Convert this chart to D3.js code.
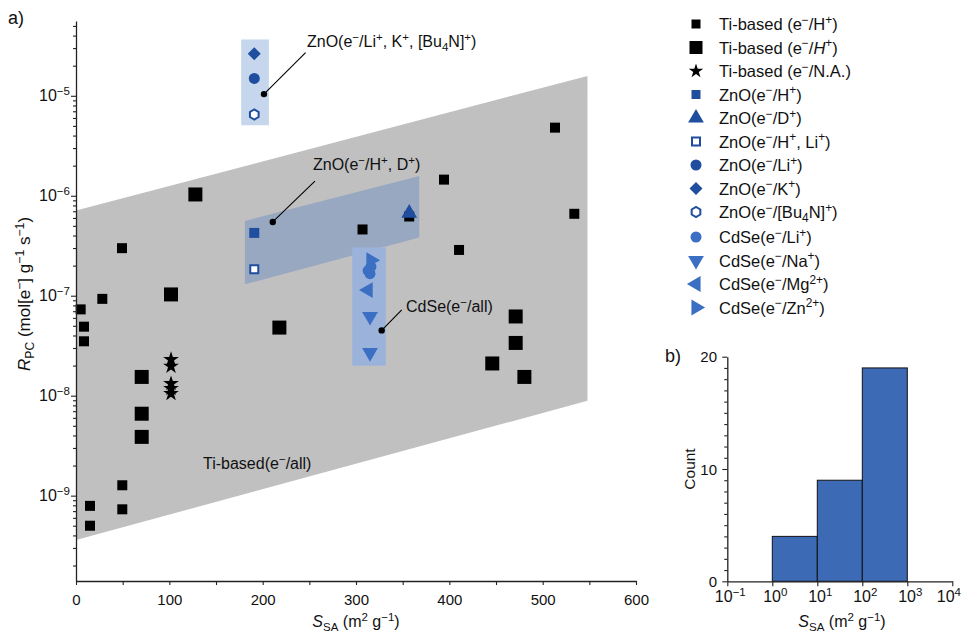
<!DOCTYPE html>
<html>
<head>
<meta charset="utf-8">
<script src="https://cdn.jsdelivr.net/npm/d3@7"></script>
<style>
  html, body { margin: 0; padding: 0; background: #fff; }
  svg { display: block; font-family: "Liberation Sans", Arial, sans-serif; }
</style>
</head>
<body>
<svg id="chart" width="962" height="636"></svg>
<script>
// ---- data -------------------------------------------------------------
// Ti-based photocatalysts, e−/H+ (small squares)
const tiSmall = [
  [49.3, 2.99e-7], [28.2, 9.3e-8], [5, 7.3e-8], [8.6, 4.9e-8], [8.6, 3.5e-8],
  [49.6, 1.27e-9], [49.6, 7.3e-10], [15, 7.9e-10], [15, 5.0e-10],
  [513.2, 4.8e-6], [394.3, 1.45e-6], [533.9, 6.6e-7], [410.4, 2.87e-7],
  [307, 4.6e-7], [357, 6.2e-7]
];
// Ti-based, e−/H+ (large squares)
const tiLarge = [
  [101.8, 1.03e-7], [70.4, 1.54e-8], [70.4, 6.6e-9], [70.4, 3.87e-9],
  [127.9, 1.03e-6], [217.9, 4.8e-8], [471.1, 6.2e-8], [471.1, 3.37e-8],
  [446, 2.1e-8], [480.4, 1.54e-8]
];
// Ti-based, e−/N.A. (stars)
const tiStar = [[101.8, 2.3e-8], [101.8, 1.97e-8], [101.8, 1.32e-8], [101.8, 1.18e-8], [101.8, 1.05e-8]];
// ZnO series
const znoH   = [[191, 4.25e-7]];
const znoD   = [[357, 6.7e-7]];
const znoHLi = [[191, 1.84e-7]];
const znoLi  = [[191, 1.49e-5]];
const znoK   = [[191, 2.64e-5]];
const znoBu  = [[191, 6.5e-6]];
// CdSe series
const cdseLi = [[316, 1.95e-7], [313, 1.78e-7], [315, 1.66e-7]];
const cdseNa = [[315, 6.2e-8], [315, 2.7e-8]];
const cdseMg = [[313, 1.14e-7]];
const cdseZn = [[316, 2.27e-7]];

// Shaded regions (S_SA, R_PC)
const tiBand   = [[0, 7.1e-7], [548, 1.58e-5], [548, 8.9e-9], [0, 3.6e-10]];
const znoUpper = [[177, 3.65e-5], [206.7, 3.65e-5], [206.7, 5.07e-6], [177, 5.07e-6]];
const znoHD    = [[181, 5.6e-7], [367.8, 1.58e-6], [367.8, 3.82e-7], [181, 1.3e-7]];
const cdseBox  = [[296, 3.03e-7], [332, 3.03e-7], [332, 1.99e-8], [296, 1.99e-8]];

// Histogram of S_SA
const binEdges = [1, 10, 100, 1000];
const binCounts = [4, 9, 19];

const xTicksMain = [0, 100, 200, 300, 400, 500, 600];
const yTicksMain = [1e-9, 1e-8, 1e-7, 1e-6, 1e-5];
const histXTicks = [1e-1, 1e0, 1e1, 1e2, 1e3, 1e4];
const histYTicks = [0, 10, 20];

// ---- colours ------------------------------------------------------------
const C = {
  axis: "#222",
  band: "#c0c0c0",
  upper: "#c5d6ed",
  hd: "#98a8c1",
  cdBox: "#9bb3db",
  zno: "#1f4e9f",
  cdse: "#3b6fc3",
  bar: "#3d6ab4"
};

const svg = d3.select("#chart");

// rich text: ^{..} superscript, _{..} subscript, *..* italic
function rich(sel, str, fs) {
  const re = /(\^\{[^}]*\}|_\{[^}]*\}|\*[^*]*\*)/g;
  const parts = str.split(re).filter(s => s && s.length);
  let shift = 0;
  parts.forEach(p => {
    let txt = p, target = 0, size = fs, italic = false;
    if (p.startsWith("^{")) { txt = p.slice(2, -1); target = -0.38 * fs; size = 0.72 * fs; }
    else if (p.startsWith("_{")) { txt = p.slice(2, -1); target = 0.22 * fs; size = 0.72 * fs; }
    else if (p.startsWith("*")) { txt = p.slice(1, -1); italic = true; }
    const t = sel.append("tspan").attr("dy", target - shift).attr("font-size", size).text(txt);
    if (italic) t.attr("font-style", "italic");
    shift = target;
  });
  return sel;
}

function label(x, y, str, fs, anchor = "start", rotate = null) {
  const t = svg.append("text")
    .attr("x", x).attr("y", y)
    .attr("font-size", fs)
    .attr("text-anchor", anchor)
    .attr("fill", "#111");
  if (rotate !== null) t.attr("transform", `rotate(${rotate},${x},${y})`);
  return rich(t, str, fs);
}
const pow10 = v => "10^{" + String(Math.round(Math.log10(v))).replace("-", "−") + "}";

// symbol paths
const hexPath = r => {
  const pts = d3.range(6).map(i => {
    const a = Math.PI / 6 + i * Math.PI / 3;
    return [r * Math.cos(a), r * Math.sin(a)];
  });
  return "M" + pts.map(p => p.join(",")).join("L") + "Z";
};
const symbols = {
  square: s => d3.symbol(d3.symbolSquare, s * s)(),
  triUp: s => d3.symbol(d3.symbolTriangle, s * s * 0.55)(),
  circle: s => d3.symbol(d3.symbolCircle, Math.PI * s * s / 4)(),
  diamond: s => d3.symbol(d3.symbolSquare, s * s / 2)(),
  star: s => d3.symbol(d3.symbolStar, s * s * 0.45)(),
  hex: s => hexPath(s / 2)
};

function marker(g, x, y, spec) {
  const p = g.append("path")
    .attr("d", symbols[spec.shape](spec.size))
    .attr("transform", `translate(${x},${y}) rotate(${spec.rot || 0})`);
  if (spec.open) {
    p.attr("fill", "#fff").attr("stroke", spec.color).attr("stroke-width", 2);
  } else {
    p.attr("fill", spec.color);
  }
  return p;
}

// ---- main panel a) --------------------------------------------------------
const x = d3.scaleLinear().domain([0, 600]).range([76, 636]);
const y = d3.scaleLog().domain([1.4e-10, 5.6e-5]).range([581, 21]);
const main = svg.append("g");

const poly = pts => "M" + pts.map(d => [x(d[0]), y(d[1])].join(",")).join("L") + "Z";
main.append("path").attr("d", poly(tiBand)).attr("fill", C.band);
main.append("path").attr("d", poly(znoUpper)).attr("fill", C.upper);
main.append("path").attr("d", poly(znoHD)).attr("fill", C.hd);
main.append("path").attr("d", poly(cdseBox)).attr("fill", C.cdBox);

const specs = {
  tiSmall: { shape: "square", size: 10, color: "#000" },
  tiLarge: { shape: "square", size: 14, color: "#000" },
  tiStar: { shape: "star", size: 13, color: "#000" },
  znoH: { shape: "square", size: 10, color: C.zno },
  znoD: { shape: "triUp", size: 14, color: C.zno },
  znoHLi: { shape: "square", size: 8, color: C.zno, open: true },
  znoLi: { shape: "circle", size: 11, color: C.zno },
  znoK: { shape: "diamond", size: 13, color: C.zno, rot: 45 },
  znoBu: { shape: "hex", size: 10, color: C.zno, open: true },
  cdseLi: { shape: "circle", size: 11, color: C.cdse },
  cdseNa: { shape: "triUp", size: 14, color: C.cdse, rot: 180 },
  cdseMg: { shape: "triUp", size: 14, color: C.cdse, rot: -90 },
  cdseZn: { shape: "triUp", size: 14, color: C.cdse, rot: 90 }
};
const seriesData = { tiSmall, tiLarge, tiStar, znoH, znoD, znoHLi, znoLi, znoK, znoBu, cdseLi, cdseNa, cdseMg, cdseZn };
const drawOrder = ["tiSmall", "tiLarge", "tiStar", "znoH", "znoD", "znoHLi", "znoLi", "znoK", "znoBu", "cdseLi", "cdseMg", "cdseNa", "cdseZn"];
const pts = main.append("g");
drawOrder.forEach(k => seriesData[k].forEach(d => marker(pts, x(d[0]), y(d[1]), specs[k])));

// annotation callouts: dot, leader line, text
const callouts = [
  { dot: [201.4, 1.04e-5], end: [246, 2.7e-5], text: "ZnO(e^{−}/Li^{+}, K^{+}, [Bu_{4}N]^{+})", tx: 307, ty: 47 },
  { dot: [210.8, 5.47e-7], end: [256, 1.4e-6], text: "ZnO(e^{−}/H^{+}, D^{+})", tx: 313, ty: 170 },
  { dot: [327.5, 4.5e-8], end: [349, 7.2e-8], text: "CdSe(e^{−}/all)", tx: 406, ty: 312 }
];
callouts.forEach(c => {
  main.append("line")
    .attr("x1", x(c.dot[0])).attr("y1", y(c.dot[1]))
    .attr("x2", x(c.end[0])).attr("y2", y(c.end[1]))
    .attr("stroke", "#000").attr("stroke-width", 1.1);
  main.append("circle").attr("cx", x(c.dot[0])).attr("cy", y(c.dot[1])).attr("r", 3.2).attr("fill", "#000");
  label(c.tx, c.ty, c.text, 16);
});
label(203, 469, "Ti-based(e^{−}/all)", 16);

// axes
const styleAxis = g => {
  g.select(".domain").attr("stroke", C.axis).attr("stroke-width", 1.3);
  g.selectAll(".tick line").attr("stroke", C.axis).attr("stroke-width", 1.1);
};
const xAxis = main.append("g").attr("transform", "translate(0,581)")
  .call(d3.axisBottom(x).tickValues(xTicksMain).tickSize(4).tickSizeOuter(0).tickFormat(d3.format("d")));
styleAxis(xAxis);
xAxis.selectAll("text").attr("font-size", 15).attr("font-family", "Liberation Sans, Arial, sans-serif")
  .attr("fill", "#111").attr("dy", null).attr("y", 24);
const xMinor = main.append("g").attr("transform", "translate(0,581)")
  .call(d3.axisBottom(x).tickValues(d3.range(50, 600, 100)).tickSize(4).tickFormat(""));
xMinor.select(".domain").remove();
styleAxis(xMinor);

const yAxis = main.append("g").attr("transform", "translate(76,0)")
  .call(d3.axisLeft(y).tickValues(yTicksMain).tickSize(5).tickSizeOuter(0).tickFormat(""));
styleAxis(yAxis);
yTicksMain.forEach(v => label(70, y(v) + 5.5, pow10(v), 16, "end"));
const yMinorVals = [];
for (let e = -10; e <= -5; e++) for (let m = 2; m <= 9; m++) {
  const v = m * Math.pow(10, e);
  if (v >= 1.4e-10 && v <= 5.6e-5) yMinorVals.push(v);
}
const yMinor = main.append("g").attr("transform", "translate(76,0)")
  .call(d3.axisLeft(y).tickValues(yMinorVals).tickSize(3).tickFormat(""));
yMinor.select(".domain").remove();
styleAxis(yMinor);

label(356, 627, "*S*_{SA} (m^{2} g^{−1})", 16, "middle");
label(30, 294, "*R*_{PC} (mol[e^{−}] g^{−1} s^{−1})", 17, "middle", -90);
label(8, 24, "a)", 18);

// ---- legend ------------------------------------------------------------
const legendItems = [
  ["tiSmall", "Ti-based (e^{−}/H^{+})", { size: 9 }],
  ["tiLarge", "Ti-based (e^{−}/*H*^{+})", { size: 13 }],
  ["tiStar", "Ti-based (e^{−}/N.A.)", { size: 12 }],
  ["znoH", "ZnO(e^{−}/H^{+})", { size: 9 }],
  ["znoD", "ZnO(e^{−}/D^{+})", {}],
  ["znoHLi", "ZnO(e^{−}/H^{+}, Li^{+})", {}],
  ["znoLi", "ZnO(e^{−}/Li^{+})", {}],
  ["znoK", "ZnO(e^{−}/K^{+})", {}],
  ["znoBu", "ZnO(e^{−}/[Bu_{4}N]^{+})", {}],
  ["cdseLi", "CdSe(e^{−}/Li^{+})", {}],
  ["cdseNa", "CdSe(e^{−}/Na^{+})", {}],
  ["cdseMg", "CdSe(e^{−}/Mg^{2+})", {}],
  ["cdseZn", "CdSe(e^{−}/Zn^{2+})", {}]
];
const leg = svg.append("g");
legendItems.forEach((it, i) => {
  const yy = 24 + i * 23.5 + (i >= 9 ? 1.5 : 0);
  marker(leg, 696, yy, Object.assign({}, specs[it[0]], it[2]));
  label(719, yy + 6, it[1], 16.5);
});

// ---- histogram panel b) ----------------------------------------------------
const hx = d3.scaleLog().domain([0.1, 1e4]).range([727.3, 952.3]);
const hy = d3.scaleLinear().domain([0, 20]).range([581.3, 356.7]);
const hist = svg.append("g");
hist.selectAll("rect").data(binCounts).join("rect")
  .attr("x", (d, i) => hx(binEdges[i]))
  .attr("width", (d, i) => hx(binEdges[i + 1]) - hx(binEdges[i]))
  .attr("y", d => hy(d))
  .attr("height", d => hy(0) - hy(d))
  .attr("fill", C.bar).attr("stroke", "#111").attr("stroke-width", 1);

const hxAxis = hist.append("g").attr("transform", "translate(0,581.3)")
  .call(d3.axisBottom(hx).tickValues(histXTicks).tickSize(5).tickSizeOuter(0).tickFormat(""));
styleAxis(hxAxis);
histXTicks.forEach((v, i) => {
  const last = i === histXTicks.length - 1;
  label(last ? 961 : hx(v) + 3, 602, pow10(v), 16, last ? "end" : "middle");
});

const hyAxis = hist.append("g").attr("transform", "translate(727.3,0)")
  .call(d3.axisLeft(hy).tickValues(histYTicks).tickSize(5).tickSizeOuter(0).tickFormat(""));
styleAxis(hyAxis);
histYTicks.forEach(v => label(717, hy(v) + 5.5, String(v), 15, "end"));
const hyMinor = hist.append("g").attr("transform", "translate(727.3,0)")
  .call(d3.axisLeft(hy).tickValues(d3.range(1, 20).filter(v => v !== 10)).tickSize(3).tickFormat(""));
hyMinor.select(".domain").remove();
styleAxis(hyMinor);

label(842, 627, "*S*_{SA} (m^{2} g^{−1})", 16, "middle");
label(695, 469, "Count", 15.5, "middle", -90);
label(665, 362, "b)", 18);
</script>
</body>
</html>
